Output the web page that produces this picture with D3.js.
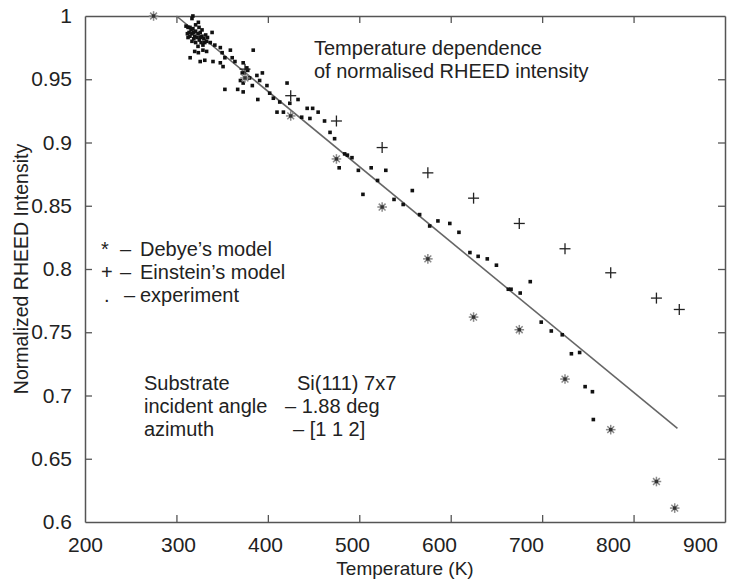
<!DOCTYPE html>
<html lang="en">
<head>
  <meta charset="UTF-8" />
  <title>RHEED intensity vs temperature</title>
  <style>
    body { margin: 0; background: #fff; font-family: "Liberation Sans", Arial, sans-serif; }
    svg text { fill: #222; }
  </style>
</head>
<body>
  <div id="chart"></div>
  <script src="https://cdn.jsdelivr.net/npm/d3@7"></script>
  <script>
    // tick values
    const xTicks = [200, 300, 400, 500, 600, 700, 800, 900];
    const yTicks = [0.6, 0.65, 0.7, 0.75, 0.8, 0.85, 0.9, 0.95, 1];

    // Debye's model (*)
    const debye = [
      [275, 1.0], [375, 0.951], [425, 0.921], [475, 0.887], [525, 0.849], [575, 0.808],
      [625, 0.762], [675, 0.752], [725, 0.713], [775, 0.673], [825, 0.632], [845, 0.611]
    ];

    // Einstein's model (+)
    const einstein = [
      [375, 0.958], [425, 0.937], [475, 0.917], [525, 0.896], [575, 0.876], [625, 0.856],
      [675, 0.836], [725, 0.816], [775, 0.797], [825, 0.777], [850, 0.768]
    ];

    // fitted straight line
    const fit = [[300, 1.0], [848, 0.674]];

    // experiment (.)
    const experiment = [
      [318, 1.000], [317, 0.998], [324, 0.995], [321, 0.993],
      [310.5, 0.992], [312.7, 0.991], [314.8, 0.991], [316, 0.989], [318, 0.990], [313.8, 0.987],
      [319, 0.987], [321, 0.988], [317, 0.986], [323.6, 0.986], [320, 0.984], [326, 0.987],
      [326, 0.983], [322.5, 0.983], [328, 0.984], [330, 0.982], [325, 0.981], [319, 0.982],
      [327, 0.979], [331, 0.979], [321, 0.979], [329, 0.977], [323.6, 0.976], [314.8, 0.984],
      [312, 0.986], [332, 0.985], [334, 0.983], [317, 0.980], [312.7, 0.983], [324.7, 0.991],
      [328, 0.989],
      [339, 0.987], [333, 0.980], [337, 0.979], [342, 0.977], [320, 0.972], [324, 0.971],
      [329, 0.973], [333, 0.972], [348, 0.975], [350, 0.971], [359, 0.973], [353, 0.967],
      [361, 0.967], [364, 0.964], [315, 0.967], [326, 0.964], [331, 0.965], [340, 0.964],
      [348, 0.963], [351, 0.960], [384, 0.973], [373, 0.963], [377, 0.959], [378, 0.957],
      [372, 0.955], [380, 0.951], [370, 0.949], [373, 0.947], [391, 0.949], [353, 0.942],
      [383, 0.945], [399, 0.945],
      [388, 0.953], [394, 0.955], [367, 0.942], [373, 0.940], [402, 0.939], [389, 0.934],
      [406, 0.935], [413, 0.932], [421, 0.947], [424, 0.931], [433, 0.934], [410, 0.924],
      [417, 0.924], [443, 0.927], [449, 0.927], [455, 0.924], [437, 0.920], [446, 0.919],
      [462, 0.917], [468, 0.908], [473, 0.903],
      [478, 0.880], [484, 0.891], [487, 0.890], [492, 0.888], [499, 0.878], [513, 0.880],
      [529, 0.878], [520, 0.870], [504, 0.859], [558, 0.862], [538, 0.855], [548, 0.851],
      [566, 0.843], [577, 0.834], [586, 0.838], [599, 0.836], [609, 0.829],
      [621, 0.813], [630, 0.810], [640, 0.808], [650, 0.803],
      [663, 0.784], [666, 0.784], [676, 0.781], [687, 0.790], [699, 0.758], [710, 0.751],
      [722, 0.748], [732, 0.733], [741, 0.734], [747, 0.707], [755, 0.703], [756, 0.681]
    ];

    const width = 740, height = 581;
    const margin = { left: 85, right: 15, top: 16, bottom: 59 };

    const svg = d3.select("#chart").append("svg")
      .attr("width", width)
      .attr("height", height);

    const x = d3.scaleLinear().domain([200, 900]).range([margin.left, width - margin.right]);
    const y = d3.scaleLinear().domain([0.6, 1]).range([height - margin.bottom, margin.top]);
    // the printed x labels sit slightly closer together than the ticks
    const xLabel = d3.scaleLinear().domain([200, 300, 900]).range([85, 178, 700]);

    const frameColor = "#555";
    const tickLen = 7;

    // axes with inward ticks on all four sides
    svg.append("g")
      .attr("transform", `translate(0,${y(0.6)})`)
      .call(d3.axisBottom(x).tickValues(xTicks).tickSizeInner(-tickLen).tickSizeOuter(0).tickPadding(15))
      .call(g => g.select(".domain").attr("stroke", frameColor).attr("stroke-width", 1.5))
      .call(g => g.selectAll(".tick text").attr("x", d => xLabel(d) - x(d)));
    svg.append("g")
      .attr("transform", `translate(0,${y(1)})`)
      .call(d3.axisTop(x).tickValues(xTicks).tickSizeInner(-tickLen).tickSizeOuter(0).tickFormat(""))
      .call(g => g.select(".domain").attr("stroke", frameColor).attr("stroke-width", 1.5));
    svg.append("g")
      .attr("transform", `translate(${x(200)},0)`)
      .call(d3.axisLeft(y).tickValues(yTicks).tickSizeInner(-tickLen).tickSizeOuter(0).tickPadding(13).tickFormat(d3.format("")))
      .call(g => g.select(".domain").attr("stroke", frameColor).attr("stroke-width", 1.5));
    svg.append("g")
      .attr("transform", `translate(${x(900)},0)`)
      .call(d3.axisRight(y).tickValues(yTicks).tickSizeInner(-tickLen).tickSizeOuter(0).tickFormat(""))
      .call(g => g.select(".domain").attr("stroke", frameColor).attr("stroke-width", 1.5));

    svg.selectAll(".tick line").attr("stroke", frameColor).attr("stroke-width", 1.3);
    svg.selectAll(".tick text")
      .attr("font-family", "Liberation Sans, Arial, sans-serif")
      .attr("font-size", 21)
      .attr("fill", "#222");
    // hide end ticks that sit on the frame
    svg.selectAll(".tick").filter(d => d === 200 || d === 900 || d === 0.6 || d === 1)
      .select("line").remove();

    // axis titles
    svg.append("text")
      .attr("x", (x(200) + x(900)) / 2)
      .attr("y", 575)
      .attr("text-anchor", "middle")
      .attr("font-size", 19)
      .text("Temperature (K)");
    svg.append("text")
      .attr("transform", `translate(28,${(y(0.6) + y(1)) / 2}) rotate(-90)`)
      .attr("text-anchor", "middle")
      .attr("font-size", 19.5)
      .text("Normalized RHEED Intensity");

    // fitted line
    svg.append("path")
      .datum(fit)
      .attr("d", d3.line().x(d => x(d[0])).y(d => y(d[1])))
      .attr("fill", "none")
      .attr("stroke", "#666")
      .attr("stroke-width", 1.6);

    // experiment dots
    svg.append("g").selectAll("rect")
      .data(experiment)
      .join("rect")
      .attr("x", d => x(d[0]) - 1.8)
      .attr("y", d => y(d[1]) - 1.8)
      .attr("width", 3.6)
      .attr("height", 3.6)
      .attr("fill", "#111");

    // Debye asterisks
    const star = svg.append("g").selectAll("g")
      .data(debye)
      .join("g")
      .attr("transform", d => `translate(${x(d[0])},${y(d[1])})`);
    [0, 45, 90, 135].forEach(a => {
      star.append("line")
        .attr("x1", -4.8).attr("x2", 4.8)
        .attr("transform", `rotate(${a})`)
        .attr("stroke", "#8a8a8a")
        .attr("stroke-width", 1.5);
    });
    star.append("rect")
      .attr("x", -1.7).attr("y", -1.7).attr("width", 3.4).attr("height", 3.4)
      .attr("fill", "#333");

    // Einstein crosses
    const plus = svg.append("g").selectAll("g")
      .data(einstein)
      .join("g")
      .attr("transform", d => `translate(${x(d[0])},${y(d[1])})`)
      .attr("stroke", "#222")
      .attr("stroke-width", 1.3);
    plus.append("line").attr("x1", -5.5).attr("x2", 5.5);
    plus.append("line").attr("y1", -5.5).attr("y2", 5.5);

    // title
    const title = svg.append("text").attr("font-size", 20).attr("fill", "#333");
    title.append("tspan").attr("x", 314).attr("y", 55).text("Temperature dependence");
    title.append("tspan").attr("x", 314).attr("y", 78).text("of normalised RHEED intensity");

    // legend
    const legend = [
      { sym: "*", symX: 101, dashX: 120, label: "Debye’s model", y: 256 },
      { sym: "+", symX: 101, dashX: 120, label: "Einstein’s model", y: 279 },
      { sym: ".", symX: 104, dashX: 124, label: "experiment", y: 302 }
    ];
    const lg = svg.append("g").attr("font-size", 20);
    legend.forEach(d => {
      lg.append("text").attr("x", d.symX).attr("y", d.y).text(d.sym);
      lg.append("text").attr("x", d.dashX).attr("y", d.y).text("–");
      lg.append("text").attr("x", 140).attr("y", d.y).text(d.label);
    });

    // substrate info
    const info = [
      ["Substrate", "Si(111) 7x7", 297, 390],
      ["incident angle", "– 1.88 deg", 285, 413],
      ["azimuth", "– [1 1 2]", 293, 436]
    ];
    const ig = svg.append("g").attr("font-size", 20);
    info.forEach(r => {
      ig.append("text").attr("x", 144).attr("y", r[3]).text(r[0]);
      ig.append("text").attr("x", r[2]).attr("y", r[3]).text(r[1]);
    });
  </script>
</body>
</html>
